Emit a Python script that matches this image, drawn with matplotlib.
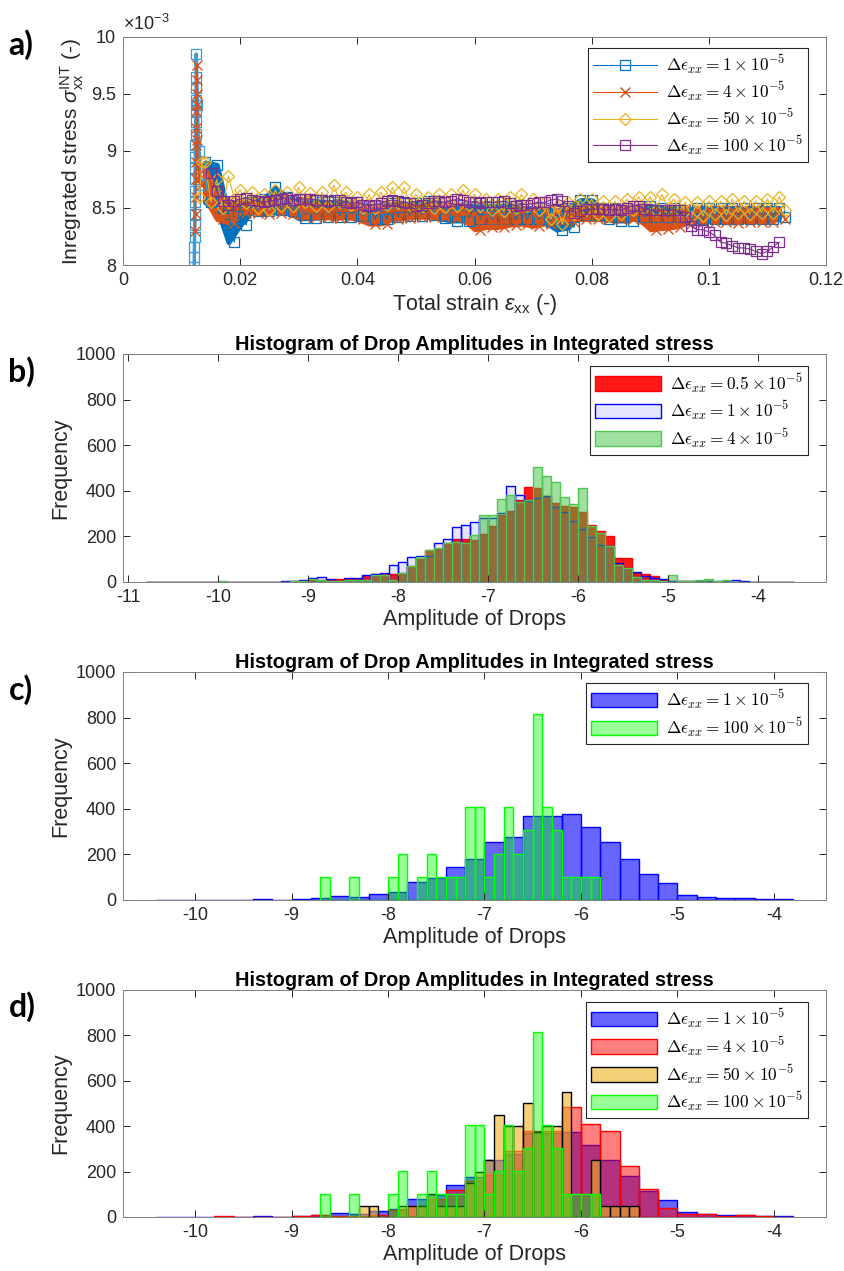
import numpy as np
import matplotlib
matplotlib.use("Agg")
import matplotlib.pyplot as plt
from matplotlib.font_manager import FontProperties

plt.rcParams["font.family"] = ["Liberation Sans", "DejaVu Sans"]
plt.rcParams["mathtext.fontset"] = "custom"
plt.rcParams["mathtext.rm"] = "Liberation Sans"
plt.rcParams["mathtext.it"] = "Liberation Sans:italic"
plt.rcParams["mathtext.bf"] = "Liberation Sans:bold"
plt.rcParams["axes.linewidth"] = 0.7
plt.rcParams["axes.edgecolor"] = "#262626"

# ---------------- panel a: integrated stress vs total strain (stress in 1e-3) ----------------
strain_grid = np.round(np.arange(0.014, 0.1125, 0.002), 3)

blue_hi = [8.90, 8.88, 8.45, 8.52, 8.55, 8.58, 8.68, 8.60, 8.58, 8.56, 8.55, 8.55, 8.55, 8.55,
           8.52, 8.52, 8.54, 8.54, 8.54, 8.56, 8.54, 8.53, 8.53, 8.52, 8.52, 8.52, 8.52, 8.50,
           8.50, 8.50, 8.48, 8.50, 8.57, 8.57, 8.50, 8.50, 8.50, 8.52, 8.52, 8.50, 8.50, 8.48,
           8.50, 8.50, 8.50, 8.50, 8.50, 8.50, 8.50, 8.50]
blue_lo = [8.55, 8.50, 8.20, 8.35, 8.47, 8.47, 8.48, 8.47, 8.41, 8.41, 8.42, 8.42, 8.42, 8.43,
           8.40, 8.40, 8.42, 8.43, 8.43, 8.44, 8.41, 8.39, 8.39, 8.40, 8.40, 8.40, 8.40, 8.40,
           8.40, 8.38, 8.31, 8.33, 8.44, 8.44, 8.40, 8.39, 8.39, 8.42, 8.42, 8.42, 8.42, 8.40,
           8.40, 8.40, 8.40, 8.40, 8.40, 8.40, 8.40, 8.42]
orange_hi = [8.85, 8.62, 8.55, 8.55, 8.55, 8.55, 8.56, 8.55, 8.53, 8.53, 8.53, 8.52, 8.52, 8.52,
             8.50, 8.50, 8.52, 8.52, 8.52, 8.53, 8.52, 8.52, 8.50, 8.46, 8.45, 8.46, 8.47, 8.48,
             8.46, 8.47, 8.48, 8.48, 8.50, 8.50, 8.50, 8.50, 8.50, 8.50, 8.46, 8.46, 8.47, 8.48,
             8.49, 8.48, 8.48, 8.48, 8.48, 8.48, 8.49, 8.49]
orange_lo = [8.58, 8.40, 8.37, 8.46, 8.46, 8.45, 8.46, 8.45, 8.42, 8.42, 8.42, 8.41, 8.42, 8.40,
             8.36, 8.36, 8.40, 8.41, 8.42, 8.42, 8.42, 8.41, 8.40, 8.31, 8.33, 8.33, 8.35, 8.36,
             8.34, 8.36, 8.38, 8.38, 8.40, 8.40, 8.40, 8.40, 8.40, 8.40, 8.31, 8.32, 8.33, 8.36,
             8.38, 8.38, 8.38, 8.37, 8.38, 8.38, 8.38, 8.40]
yellow_hi = [8.90, 8.75, 8.78, 8.66, 8.64, 8.62, 8.66, 8.64, 8.68, 8.63, 8.64, 8.70, 8.64, 8.60,
             8.62, 8.64, 8.68, 8.68, 8.62, 8.60, 8.62, 8.62, 8.66, 8.62, 8.58, 8.58, 8.60, 8.62,
             8.58, 8.55, 8.52, 8.55, 8.58, 8.58, 8.56, 8.56, 8.58, 8.60, 8.60, 8.62, 8.58, 8.55,
             8.55, 8.56, 8.56, 8.58, 8.56, 8.56, 8.58, 8.60]
yellow_lo = [8.55, 8.50, 8.58, 8.54, 8.50, 8.48, 8.52, 8.52, 8.55, 8.52, 8.52, 8.55, 8.53, 8.50,
             8.50, 8.53, 8.54, 8.53, 8.52, 8.50, 8.51, 8.52, 8.53, 8.52, 8.48, 8.47, 8.50, 8.52,
             8.48, 8.40, 8.36, 8.45, 8.48, 8.45, 8.43, 8.45, 8.48, 8.50, 8.48, 8.50, 8.47, 8.42,
             8.43, 8.45, 8.44, 8.46, 8.45, 8.46, 8.46, 8.48]

# initial elastic spike (column of markers)
spike_blue_eps = [0.01215, 0.01217, 0.01219, 0.01221, 0.01223, 0.01225, 0.01227, 0.01229,
                  0.01231, 0.01233, 0.01235, 0.01237, 0.01239, 0.01241, 0.01243, 0.01245,
                  0.01247, 0.01249, 0.0125, 0.0127, 0.0129, 0.0131, 0.0133]
spike_blue_sig = [7.98, 8.07, 8.16, 8.25, 8.35, 8.45, 8.55, 8.65, 8.75, 8.85, 8.95, 9.05, 9.15,
                  9.25, 9.35, 9.45, 9.55, 9.65, 9.85, 9.40, 9.00, 8.80, 8.70]
spike_orange_eps = [0.01235, 0.01238, 0.0124, 0.01243, 0.01245, 0.01248, 0.0125, 0.01253,
                    0.01255, 0.01258, 0.0126, 0.01265, 0.0127, 0.0128, 0.0130, 0.0133]
spike_orange_sig = [8.30, 8.45, 8.60, 8.75, 8.90, 9.05, 9.20, 9.35, 9.50, 9.62, 9.75, 9.40,
                    9.10, 8.85, 8.75, 8.70]
spike_yellow_eps = [0.0130, 0.0135]
spike_yellow_sig = [8.60, 8.90]

purple_eps = np.round(np.arange(0.015, 0.1125, 0.001), 3)
purple_sig = [8.81, 8.65, 8.56, 8.53, 8.56, 8.58, 8.59, 8.57, 8.56, 8.55, 8.56, 8.57, 8.58, 8.59,
              8.57, 8.58, 8.58, 8.58, 8.57, 8.57, 8.56, 8.57, 8.57, 8.55, 8.54, 8.55, 8.53, 8.52,
              8.53, 8.54, 8.56, 8.57, 8.56, 8.55, 8.54, 8.52, 8.53, 8.54, 8.56, 8.56, 8.55, 8.56,
              8.58, 8.57, 8.55, 8.55, 8.54, 8.55, 8.55, 8.55, 8.56, 8.54, 8.52, 8.53, 8.53, 8.54,
              8.55, 8.55, 8.57, 8.58, 8.56, 8.52, 8.46, 8.47, 8.49, 8.49, 8.49, 8.49, 8.48, 8.49,
              8.48, 8.50, 8.52, 8.52, 8.49, 8.48, 8.48, 8.48, 8.48, 8.48, 8.48, 8.42, 8.34, 8.31,
              8.31, 8.29, 8.26, 8.20, 8.19, 8.17, 8.15, 8.15, 8.14, 8.12, 8.10, 8.12, 8.16, 8.20]

a_labels = [r"$\Delta\epsilon_{xx} = 1 \times 10^{-5}$", r"$\Delta\epsilon_{xx} = 4 \times 10^{-5}$",
            r"$\Delta\epsilon_{xx} = 50 \times 10^{-5}$", r"$\Delta\epsilon_{xx} = 100 \times 10^{-5}$"]

# ---------------- histograms (bin start, bin width, counts) ----------------
b_start, b_width = -10.8, 0.1
b_red = [0, 1, 1, 1, 1, 0, 0, 1, 0, 0, 0, 0, 1, 0, 1,
         2, 3, 5, 8, 10, 10, 12, 12, 15, 26, 35, 36, 34, 38,
         70, 100, 140, 145, 171, 190, 190, 186, 212, 247, 295, 313, 358, 415,
         414, 376, 348, 332, 327, 308, 251, 224, 200, 105, 105, 39, 35, 28,
         10, 5, 5, 4, 3, 3, 2, 2, 1, 1, 0, 0, 0, 0, 0]
b_blue = [0, 2, 2, 2, 1, 1, 0, 1, 1, 0, 1, 1, 2, 1, 2,
          4, 4, 10, 18, 20, 15, 5, 18, 19, 32, 36, 38, 75, 86,
          110, 113, 113, 170, 190, 241, 250, 262, 281, 281, 304, 422, 381, 355,
          368, 376, 327, 308, 266, 232, 196, 164, 156, 85, 60, 45, 25, 18,
          15, 5, 5, 5, 4, 4, 3, 3, 7, 3, 2, 1, 1, 1, 1]
b_green = [0, 0, 0, 0, 0, 0, 0, 0, 5, 0, 0, 0, 0, 0, 0,
           2, 6, 4, 12, 8, 6, 5, 8, 10, 9, 29, 29, 7, 40,
           70, 110, 142, 149, 171, 175, 171, 205, 292, 292, 362, 383, 352, 361,
           503, 463, 437, 373, 342, 414, 246, 213, 156, 76, 60, 20, 10, 8,
           5, 29, 5, 6, 10, 13, 4, 7, 0, 0, 0, 0, 0, 0, 0]
b_labels = [r"$\Delta\epsilon_{xx} = 0.5 \times 10^{-5}$", r"$\Delta\epsilon_{xx} = 1 \times 10^{-5}$",
            r"$\Delta\epsilon_{xx} = 4 \times 10^{-5}$"]

blue1_start, blue1_width = -10.4, 0.2
blue1 = [2, 0, 0, 1, 0, 3, 1, 6, 10, 18, 12, 25, 37, 80, 95, 143, 178, 253, 276, 368, 368, 376,
         319, 253, 180, 115, 73, 20, 12, 7, 9, 3, 3]
green100_start, green100_width = -8.7, 0.1
green100 = [102, 0, 0, 102, 0, 0, 0, 102, 203, 0, 102, 203, 102, 102, 102, 407, 407, 102, 203,
            407, 203, 305, 814, 407, 305, 102, 102, 102, 102]
red4_start, red4_width = -9.8, 0.2
red4 = [4, 2, 1, 1, 3, 10, 3, 6, 10, 32, 47, 79, 120, 157, 186, 289, 377, 377, 485, 410, 380,
        223, 123, 40, 13, 13, 6, 9, 4, 0]
yellow50_start, yellow50_width = -8.3, 0.1
yellow50 = [50, 50, 0, 0, 50, 50, 50, 100, 50, 50, 50, 150, 200, 250, 450, 400, 400, 500, 375,
            400, 400, 550, 0, 0, 250, 50, 50, 50, 50]
c_labels = [r"$\Delta\epsilon_{xx} = 1 \times 10^{-5}$", r"$\Delta\epsilon_{xx} = 100 \times 10^{-5}$"]
d_labels = [r"$\Delta\epsilon_{xx} = 1 \times 10^{-5}$", r"$\Delta\epsilon_{xx} = 4 \times 10^{-5}$",
            r"$\Delta\epsilon_{xx} = 50 \times 10^{-5}$", r"$\Delta\epsilon_{xx} = 100 \times 10^{-5}$"]

hist_title = "Histogram of Drop Amplitudes in Integrated stress"

# ---------------- drawing ----------------
GRAY = "#262626"
leg_font = FontProperties(family="DejaVu Serif", size=12.5, math_fontfamily="cm")


def style_axes(ax):
    ax.tick_params(direction="in", top=True, right=True, length=5, width=0.7,
                   labelsize=13, colors=GRAY, pad=5)
    for s in ax.spines.values():
        s.set_color("#7f7f7f")


def zigzag(hi, lo):
    xs, ys = [], []
    for e, h, l in zip(strain_grid, hi, lo):
        xs += [e, e + 0.001]
        ys += [h, l]
    return xs, ys


fig = plt.figure(figsize=(8.45, 12.71), dpi=100)

ax = fig.add_axes([0.1456, 0.7915, 0.8319, 0.1794])
c_blue, c_orange, c_yellow, c_purple = "#0072BD", "#D95319", "#EDB120", "#7E2F8E"
ax.fill_between(strain_grid, blue_lo, blue_hi, color=c_blue, lw=3.5)
ax.plot(spike_blue_eps, spike_blue_sig, color="#3C9BDA", lw=2.5, marker="s", ms=7,
        mfc="none", mew=0.9)
xs, ys = zigzag(blue_hi, blue_lo)
ax.plot(xs, ys, color=c_blue, lw=0.8, marker="s", ms=6.5, mfc="none", mew=0.9,
        label=a_labels[0])
ax.fill_between(strain_grid, orange_lo, orange_hi, color=c_orange, lw=3)
ax.plot(spike_orange_eps, spike_orange_sig, color=c_orange, lw=1.2, marker="x", ms=7, mew=1.0)
xs, ys = zigzag(orange_hi, orange_lo)
ax.plot(xs, ys, color=c_orange, lw=0.8, marker="x", ms=7, mew=1.0, label=a_labels[1])
xs, ys = zigzag(yellow_hi, yellow_lo)
ax.plot(spike_yellow_eps + xs, spike_yellow_sig + ys, color=c_yellow, lw=0.8, marker="D", ms=6.5,
        mfc="none", mew=0.9, label=a_labels[2])
ax.plot(purple_eps, purple_sig, color=c_purple, lw=0.8, marker="s", ms=7.5, mfc="none",
        mew=0.9, label=a_labels[3])
ax.set_xlim(0, 0.12)
ax.set_ylim(8, 10)
ax.set_xticks([0, 0.02, 0.04, 0.06, 0.08, 0.1, 0.12])
ax.set_xticklabels(["0", "0.02", "0.04", "0.06", "0.08", "0.1", "0.12"])
ax.set_yticks([8, 8.5, 9, 9.5, 10])
ax.set_yticklabels(["8", "8.5", "9", "9.5", "10"])
style_axes(ax)
ax.text(0.0, 1.015, r"$\times 10^{-3}$", transform=ax.transAxes, fontsize=13, color=GRAY,
        va="bottom", ha="left")
ax.set_xlabel(r"Total strain $\epsilon_{\rm xx}$ (-)", fontsize=15.5, color=GRAY, labelpad=2)
ax.set_ylabel(r"Inregrated stress $\sigma_{\rm xx}^{\rm INT}$ (-)", fontsize=15, color=GRAY,
              labelpad=4)
leg = ax.legend(loc="upper right", bbox_to_anchor=(0.9744, 0.9518), borderaxespad=0,
                prop=leg_font, fancybox=False, framealpha=1, edgecolor=GRAY, handlelength=3.7,
                labelspacing=0.2, borderpad=0.3, handletextpad=0.5)
leg.get_frame().set_linewidth(0.8)


def bars(ax, start, width, counts, **kw):
    lefts = start + width * np.arange(len(counts))
    return ax.bar(lefts, counts, width=width, align="edge", **kw)


def hist_axes(rect, xlim, xticks, labels, series, legend_top):
    ax = fig.add_axes(rect)
    handles = []
    for start, width, counts, fc, fa, ec in series:
        h = bars(ax, start, width, counts, facecolor=matplotlib.colors.to_rgba(fc, fa),
                 edgecolor=ec, linewidth=1.0)
        handles.append(h)
    ax.set_xlim(*xlim)
    ax.set_ylim(0, 1000)
    ax.set_xticks(xticks)
    ax.set_xticklabels([str(t) for t in xticks])
    ax.set_yticks(range(0, 1001, 200))
    style_axes(ax)
    ax.set_title(hist_title, fontsize=14.4, fontweight="bold", pad=3)
    ax.set_xlabel("Amplitude of Drops", fontsize=15.5, color=GRAY, labelpad=2)
    ax.set_ylabel("Frequency", fontsize=15.5, color=GRAY, labelpad=3)
    leg = ax.legend(handles, labels, loc="upper right", bbox_to_anchor=(0.9744, legend_top),
                    borderaxespad=0, prop=leg_font, fancybox=False, framealpha=1,
                    edgecolor=GRAY, handlelength=3.8, handleheight=0.9, labelspacing=0.25,
                    borderpad=0.3, handletextpad=0.5)
    leg.get_frame().set_linewidth(0.8)
    return ax


hist_axes([0.1456, 0.5421, 0.8319, 0.1794], (-11.056, -3.244), [-11, -10, -9, -8, -7, -6, -5, -4],
          b_labels,
          [(b_start, b_width, b_red, "#FF0000", 0.9, "#FF0000"),
           (b_start, b_width, b_blue, "#0000FF", 0.1, "#0000FF"),
           (b_start, b_width, b_green, "#40C040", 0.5, "#50C850")], 0.947)

hist_axes([0.1456, 0.2919, 0.8319, 0.1794], (-10.746, -3.461), [-10, -9, -8, -7, -6, -5, -4],
          c_labels,
          [(blue1_start, blue1_width, blue1, "#0000FF", 0.6, "#0000FF"),
           (green100_start, green100_width, green100, "#00FF00", 0.4, "#00FF00")], 0.952)

hist_axes([0.1456, 0.0425, 0.8319, 0.1786], (-10.746, -3.461), [-10, -9, -8, -7, -6, -5, -4],
          d_labels,
          [(blue1_start, blue1_width, blue1, "#0000FF", 0.6, "#0000FF"),
           (red4_start, red4_width, red4, "#FF0000", 0.5, "#FF0000"),
           (yellow50_start, yellow50_width, yellow50, "#EDB120", 0.6, "#000000"),
           (green100_start, green100_width, green100, "#00FF00", 0.4, "#00FF00")], 0.948)

for lab, ypix in [("a)", 45), ("b)", 372), ("c)", 690), ("d)", 1007)]:
    fig.text(0.010, 1 - ypix / 1271, lab, fontsize=23, fontweight="bold", family="Lato",
             va="center", ha="left")

fig.savefig("out.png", dpi=100)
